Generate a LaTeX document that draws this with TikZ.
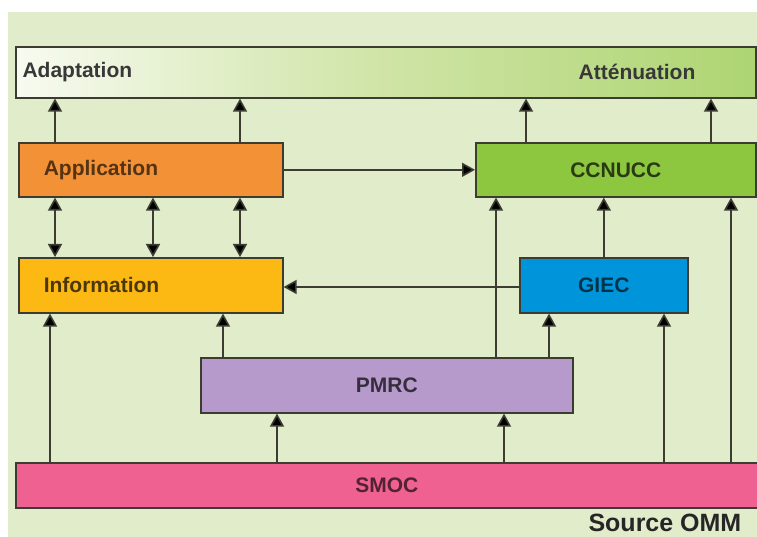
\documentclass[tikz,border=0pt]{standalone}
\usepackage{fontspec}
\setmainfont{Liberation Sans}
\usetikzlibrary{arrows.meta,positioning,calc}
\definecolor{Backdrop}{HTML}{E1ECCA}
\definecolor{Edge}{HTML}{3C3C32}
\definecolor{BarMid}{HTML}{CFE4A6}
\definecolor{BarGreen}{HTML}{8CC63E}
\definecolor{AppOrange}{HTML}{F39137}
\definecolor{CcGreen}{HTML}{8DC63F}
\definecolor{InfoYellow}{HTML}{FDB913}
\definecolor{GiecBlue}{HTML}{0095DA}
\definecolor{PmrcPurple}{HTML}{B69ACB}
\definecolor{SmocPink}{HTML}{EE6191}
\pgfdeclarehorizontalshading{barshade}{100bp}{color(0bp)=(white); color(20bp)=(white); color(50bp)=(BarMid); color(100bp)=(BarGreen)}

\begin{document}
\begin{tikzpicture}[x=1pt,y=-1pt,
  box/.style={draw=Edge,line width=1.6pt,inner sep=0pt,font=\fontsize{21}{24}\selectfont\bfseries},
  leftbox/.style={box,inner xsep=25pt,align=left},
  arrow/.style={-{Triangle[length=13pt,width=14pt,fill=black]},line width=1.6pt,draw=Edge},
  twoway/.style={{Triangle[length=13pt,width=14pt,fill=black]}-{Triangle[length=13pt,width=14pt,fill=black]},line width=1.6pt,draw=Edge}
]
\useasboundingbox (0,0) rectangle (757,537);
\fill[white] (0,0) rectangle (757,537);
\fill[Backdrop] (8,12) rectangle (757,537);

% top band
\node[box,shading=barshade,minimum width=740pt,minimum height=51pt,anchor=north west] (bar) at (15,46) {};
\node[anchor=west,font=\fontsize{21}{24}\selectfont\bfseries,text=black!78] (adapt) at (19,72) {Adaptation};
\node[font=\fontsize{21}{24}\selectfont\bfseries,text=black!78] (atten) at (637,72) {Atténuation};

% boxes
\node[leftbox,fill=AppOrange,text=AppOrange!35!black,text width=214pt,minimum height=54pt,anchor=north west] (app) at (18,142) {Application};
\node[box,fill=CcGreen,text=CcGreen!30!black,minimum width=280pt,minimum height=54pt,anchor=north west] (cc) at (475,142) {CCNUCC};
\node[leftbox,fill=InfoYellow,text=InfoYellow!30!black,text width=214pt,minimum height=55pt,anchor=north west] (info) at (18,257) {Information};
\node[box,fill=GiecBlue,text=GiecBlue!35!black,minimum width=168pt,minimum height=55pt,anchor=north west] (giec) at (519,257) {GIEC};
\node[box,fill=PmrcPurple,text=PmrcPurple!30!black,minimum width=372pt,minimum height=55pt,anchor=north west] (pmrc) at (200,357) {PMRC};
\node[box,fill=SmocPink,text=SmocPink!35!black,minimum width=742pt,minimum height=45pt,anchor=north west] (smoc) at (15,462) {SMOC};
\node[anchor=base west,font=\fontsize{25}{30}\selectfont\bfseries,text=black!85] (src) at (585,531) {Source OMM};

% upward links to the top band
\foreach \x in {55,240}
  \draw[arrow] (app.north -| \x,0) -- (bar.south -| \x,0);
\foreach \x in {526,711}
  \draw[arrow] (cc.north -| \x,0) -- (bar.south -| \x,0);

\draw[arrow] (app.east) -- (cc.west);
\foreach \x in {55,153,240}
  \draw[twoway] (app.south -| \x,0) -- (info.north -| \x,0);
\draw[arrow] (giec.west |- 0,287) -- (info.east |- 0,287);
\draw[arrow] (giec.north) -- (cc.south -| giec.north);

% from PMRC
\draw[arrow] (pmrc.north -| 223,0) -- (info.south -| 223,0);
\draw[arrow] (pmrc.north -| 549,0) -- (giec.south -| 549,0);
\draw[arrow] (pmrc.north -| 496,0) -- (cc.south -| 496,0);

% from SMOC
\draw[arrow] (smoc.north -| 50,0) -- (info.south -| 50,0);
\foreach \x in {277,504}
  \draw[arrow] (smoc.north -| \x,0) -- (pmrc.south -| \x,0);
\draw[arrow] (smoc.north -| 664,0) -- (giec.south -| 664,0);
\draw[arrow] (smoc.north -| 731,0) -- (cc.south -| 731,0);
\end{tikzpicture}
\end{document}
